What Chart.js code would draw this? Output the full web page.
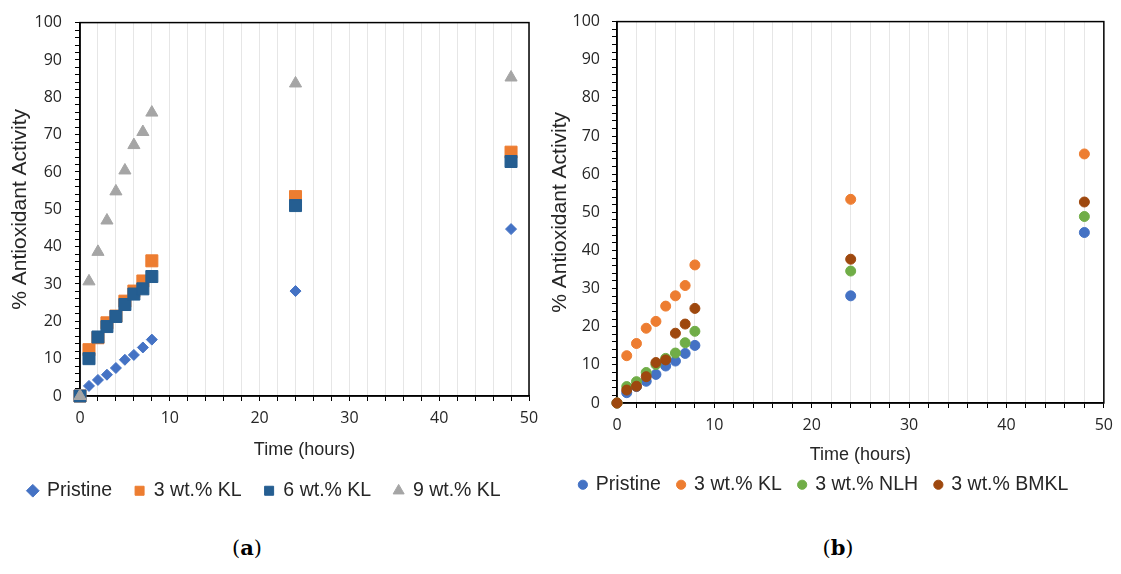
<!DOCTYPE html>
<html>
<head>
<meta charset="utf-8">
<script src="https://cdn.jsdelivr.net/npm/chart.js@4.4.0/dist/chart.umd.min.js"></script>
<style>
  body { margin: 0; background: #fff; width: 1121px; height: 574px; position: relative; overflow: hidden; }
  canvas { position: absolute; top: 0; }
  #chartA { left: 0; }
  #chartB { left: 540px; }
  .caption { position: absolute; top: 535px; font-family: "DejaVu Serif", serif; font-size: 21px; color: #000; transform: translateX(-50%); }
</style>
</head>
<body>
<canvas id="chartA" width="560" height="520"></canvas>
<canvas id="chartB" width="581" height="520"></canvas>
<div class="caption" style="left:247px">(<b>a</b>)</div>
<div class="caption" style="left:838px">(<b>b</b>)</div>
<script>
// sampling times (hours)
var hours = [0, 1, 2, 3, 4, 5, 6, 7, 8, 24, 48];

// % antioxidant activity per film
var pristine = [0, 2.7, 4.3, 5.7, 7.5, 9.7, 11.0, 13.0, 15.1, 28.1, 44.7];
var kl3 = [0, 12.4, 15.6, 19.6, 21.4, 25.4, 28.1, 30.8, 36.2, 53.4, 65.3];
var kl6 = [0, 10.0, 15.8, 18.6, 21.3, 24.5, 27.3, 28.7, 32.0, 51.0, 62.8];
var kl9 = [0, 30.7, 38.6, 47.0, 54.8, 60.4, 67.2, 70.7, 75.9, 83.7, 85.3];
var nlh3 = [0, 4.3, 5.6, 8.0, 10.1, 11.7, 13.1, 15.8, 18.8, 34.6, 48.9];
var bmkl3 = [0, 3.4, 4.4, 6.9, 10.6, 11.3, 18.3, 20.7, 24.8, 37.7, 52.7];

var xTicks = [0, 10, 20, 30, 40, 50];
var yTicks = [0, 10, 20, 30, 40, 50, 60, 70, 80, 90, 100];

var tickFont = { family: "'Open Sans', sans-serif", size: 16 };
var arial = "'Liberation Sans', Arial, sans-serif";
var textColor = '#262626';

function toPoints(values)
{
  var pts = [];
  for (var i = 0; i < hours.length; i++) {
    pts.push({ x: hours[i], y: values[i] });
  }
  return pts;
}

function serie(label, values, color, style, radius)
{
  return {
    label: label,
    data: toPoints(values),
    backgroundColor: color,
    borderColor: color,
    borderWidth: 1,
    pointStyle: style,
    pointRadius: radius,
    pointHoverRadius: radius,
    showLine: false,
    clip: false
  };
}

// black frame round the plot area
var framePlugin = {
  id: 'frame',
  beforeDatasetsDraw: function(chart) {
    var a = chart.chartArea;
    var ctx = chart.ctx;
    ctx.save();
    ctx.strokeStyle = '#000';
    ctx.lineWidth = 1.5;
    ctx.strokeRect(a.left, a.top, a.right - a.left, a.bottom - a.top);
    ctx.restore();
  }
};

function printChart(id, datasets, lay)
{
  // last series on top
  for (var i = 0; i < datasets.length; i++) {
    datasets[i].order = datasets.length - i;
  }

  return new Chart(document.getElementById(id), {
    type: 'scatter',
    data: { datasets: datasets },
    plugins: [framePlugin],
    options: {
      responsive: false,
      animation: false,
      layout: { padding: lay.padding },
      plugins: {
        tooltip: { enabled: false },
        legend: {
          position: 'bottom',
          labels: {
            usePointStyle: true,
            boxWidth: lay.box,
            boxHeight: lay.box,
            padding: lay.legendGap,
            color: textColor,
            font: { family: arial, size: 19.5 },
            sort: function(a, b) { return a.datasetIndex - b.datasetIndex; }
          }
        }
      },
      scales: {
        x: {
          type: 'linear',
          min: 0,
          max: 50,
          afterFit: function(scale) { scale.height = lay.xh; },
          afterBuildTicks: function(scale) {
            var t = [];
            for (var v = 0; v <= 50; v += 2) t.push({ value: v });
            scale.ticks = t;
          },
          ticks: {
            autoSkip: false,
            maxRotation: 0,
            padding: 8,
            color: textColor,
            font: tickFont,
            callback: function(v) { return xTicks.indexOf(v) >= 0 ? v : ''; }
          },
          grid: { color: '#e6e6e6', lineWidth: 1, tickColor: '#000', tickLength: 5 },
          border: { color: '#000', width: 1.5 },
          title: { display: true, text: 'Time (hours)', color: textColor, font: { family: arial, size: 18 }, padding: { top: 0, bottom: lay.xtp } }
        },
        y: {
          min: 0,
          max: 100,
          afterFit: function(scale) { scale.width = lay.yw; },
          afterBuildTicks: function(scale) {
            var t = [];
            for (var v = 0; v <= 100; v += 2) t.push({ value: v });
            scale.ticks = t;
          },
          ticks: {
            autoSkip: false,
            padding: lay.ytp,
            color: textColor,
            font: tickFont,
            callback: function(v) { return yTicks.indexOf(v) >= 0 ? v : ''; }
          },
          grid: { drawOnChartArea: false, tickColor: '#000', tickLength: 5 },
          border: { color: '#000', width: 1.5 },
          title: { display: true, text: '% Antioxidant Activity', color: textColor, font: { family: arial, size: 21 }, padding: { top: lay.ytitle, bottom: 0 } }
        }
      }
    }
  });
}

printChart('chartA', [
  serie('Pristine', pristine, '#4472C4', 'rectRot', 5.5),
  serie('3 wt.% KL', kl3, '#ED7D31', 'rect', 8.5),
  serie('6 wt.% KL', kl6, '#255E91', 'rect', 8.5),
  serie('9 wt.% KL', kl9, '#A5A5A5', 'triangle', 7)
], { padding: { left: 0, right: 31, top: 20, bottom: 9.5 }, yw: 80, xh: 62, xtp: -2.8, ytp: 13, ytitle: 7.4, box: 9, legendGap: 23 });

printChart('chartB', [
  serie('Pristine', pristine, '#4472C4', 'circle', 5),
  serie('3 wt.% KL', kl3, '#ED7D31', 'circle', 5),
  serie('3 wt.% NLH', nlh3, '#70AD47', 'circle', 5),
  serie('3 wt.% BMKL', bmkl3, '#9E480E', 'circle', 5)
], { padding: { left: 0, right: 13, top: 20, bottom: 15.5 }, yw: 77, xh: 55, xtp: -7.8, ytp: 12, ytitle: 7.4, box: 6.5, legendGap: 17 });
</script>
</body>
</html>
